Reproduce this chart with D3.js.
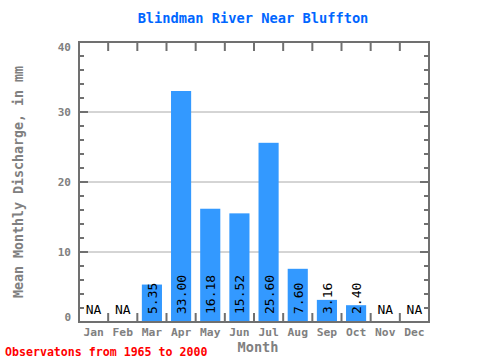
<!DOCTYPE html>
<html><head><meta charset="utf-8">
<script src="https://cdn.jsdelivr.net/npm/d3@7"></script>
<style>body{margin:0;background:#fff}svg{display:block}</style>
</head><body>
<svg id="c" width="480" height="360"></svg>
<script>
const months = ["Jan","Feb","Mar","Apr","May","Jun","Jul","Aug","Sep","Oct","Nov","Dec"];
const values = [null,null,5.35,33.00,16.18,15.52,25.60,7.60,3.16,2.40,null,null];
const labels = ["NA","NA","5.35","33.00","16.18","15.52","25.60","7.60","3.16","2.40","NA","NA"];
const yTicks = [0,10,20,30,40];
const title = "Blindman River Near Bluffton";
const yTitle = "Mean Monthly Discharge, in mm";
const xTitle = "Month";
const footer = "Observatons from 1965 to 2000";

const svg = d3.select("#c");
const L = 79, R = 429, T = 42, B = 322;
const mono = "'DejaVu Sans Mono', monospace";
const axisCol = "#707070", txtCol = "#808080";

const x = d3.scaleBand().domain(months).range([L, R]).paddingInner(0.31).paddingOuter(0.155);
const xb = d3.scaleBand().domain(months).range([L, R]);
const y = d3.scaleLinear().domain([0, 40]).range([B, T]);

// gridlines
svg.append("g").selectAll("line").data(yTicks.filter(d => d > 0 && d < 40)).join("line")
  .attr("x1", L).attr("x2", R).attr("y1", d => y(d)).attr("y2", d => y(d))
  .attr("stroke", "#aaaaaa").attr("stroke-width", 1);

// bars
svg.append("g").selectAll("rect").data(months.map((m, i) => ({m, v: values[i]})).filter(d => d.v != null)).join("rect")
  .attr("x", d => x(d.m)).attr("width", x.bandwidth())
  .attr("y", d => y(d.v)).attr("height", d => y(0) - y(d.v))
  .attr("fill", "#3399ff");

// frame
svg.append("rect").attr("x", L).attr("y", T).attr("width", R - L).attr("height", B - T)
  .attr("fill", "none").attr("stroke", axisCol).attr("stroke-width", 2);

// y ticks (left and right, inward)
const minor = d3.range(0, 41, 2);
const tg = svg.append("g").attr("stroke", axisCol).attr("stroke-width", 2);
minor.forEach(v => {
  const len = v % 10 === 0 ? 9 : 5;
  tg.append("line").attr("x1", L).attr("x2", L + len).attr("y1", y(v)).attr("y2", y(v));
  tg.append("line").attr("x1", R).attr("x2", R - len).attr("y1", y(v)).attr("y2", y(v));
});
// x ticks top and bottom at month boundaries
months.slice(1).forEach(m => {
  const xx = xb(m);
  tg.append("line").attr("x1", xx).attr("x2", xx).attr("y1", T).attr("y2", T + 9);
  tg.append("line").attr("x1", xx).attr("x2", xx).attr("y1", B).attr("y2", B - 9);
});

// y tick labels (end labels nudged inward)
svg.append("g").selectAll("text").data(yTicks).join("text")
  .attr("x", 71).attr("y", d => y(d) + (d === 0 ? -5 : d === 40 ? 5 : 0)).attr("dy", "0.35em").attr("text-anchor", "end")
  .attr("font-family", mono).attr("font-weight", "bold").attr("font-size", 11)
  .attr("fill", txtCol).text(d => d);

// month labels
svg.append("g").selectAll("text").data(months).join("text")
  .attr("x", d => xb(d) + xb.bandwidth() / 2).attr("y", 336).attr("text-anchor", "middle")
  .attr("font-family", mono).attr("font-weight", "bold").attr("font-size", 11.3)
  .attr("fill", txtCol).text(d => d);

// value labels
months.forEach((m, i) => {
  const cx = xb(m) + xb.bandwidth() / 2;
  if (values[i] == null) {
    svg.append("text").attr("x", cx).attr("y", 314).attr("text-anchor", "middle")
      .attr("font-family", mono).attr("font-size", 13).attr("fill", "#000").text(labels[i]);
  } else {
    svg.append("text").attr("transform", `translate(${cx + 5},314) rotate(-90)`)
      .attr("text-anchor", "start")
      .attr("font-family", mono).attr("font-size", 13).attr("fill", "#000").text(labels[i]);
  }
});

// titles
svg.append("text").attr("x", 253).attr("y", 23).attr("text-anchor", "middle")
  .attr("font-family", mono).attr("font-weight", "bold").attr("font-size", 13.7)
  .attr("fill", "#0066ff").text(title);
svg.append("text").attr("x", 258).attr("y", 352).attr("text-anchor", "middle")
  .attr("font-family", mono).attr("font-weight", "bold").attr("font-size", 13.6)
  .attr("fill", txtCol).text(xTitle);
svg.append("text").attr("transform", "translate(23,182) rotate(-90)").attr("text-anchor", "middle")
  .attr("font-family", mono).attr("font-weight", "bold").attr("font-size", 13.3)
  .attr("fill", txtCol).text(yTitle);
svg.append("text").attr("x", 5).attr("y", 356)
  .attr("font-family", mono).attr("font-weight", "bold").attr("font-size", 11.6)
  .attr("fill", "#ff0000").text(footer);
</script>
</body></html>
